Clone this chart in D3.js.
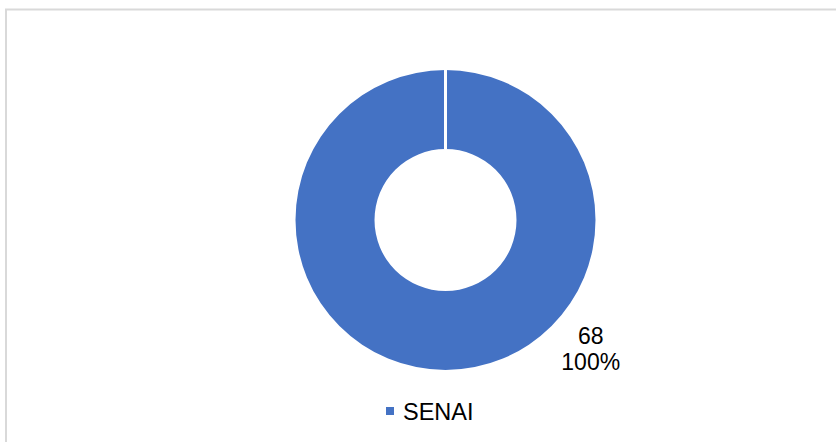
<!DOCTYPE html>
<html>
<head>
<meta charset="utf-8">
<script src="https://cdn.jsdelivr.net/npm/d3@7"></script>
<style>
  html, body { margin: 0; padding: 0; background: #fff; }
  #chart { width: 836px; height: 442px; }
  text { font-family: "Liberation Sans", Arial, sans-serif; }
</style>
</head>
<body>
<div id="chart"></div>
<script>
// donut: uma só categoria (100%)
const categories = ["SENAI"];
const values = [68];
const colors = ["#4472c4"];

const width = 836, height = 442;
const cx = 445.5, cy = 220;
const outerR = 150, innerR = 71;

const svg = d3.select("#chart").append("svg")
  .attr("width", width)
  .attr("height", height);

// moldura do gráfico
svg.append("rect")
  .attr("x", 6).attr("y", 9.5)
  .attr("width", width + 10).attr("height", height + 10)
  .attr("fill", "#fff")
  .attr("stroke", "#d9d9d9")
  .attr("stroke-width", 2);

const g = svg.append("g")
  .attr("transform", `translate(${cx},${cy})`);

const pie = d3.pie().sort(null).value(d => d);
const arcs = pie(values);
const total = d3.sum(values);

const arc = d3.arc().innerRadius(innerR).outerRadius(outerR);

g.selectAll("path.slice")
  .data(arcs)
  .join("path")
  .attr("class", "slice")
  .attr("d", arc)
  .attr("fill", (d, i) => colors[i]);

// separador branco no início de cada fatia
g.selectAll("line.sep")
  .data(arcs)
  .join("line")
  .attr("class", "sep")
  .attr("x1", d => innerR * Math.sin(d.startAngle))
  .attr("y1", d => -innerR * Math.cos(d.startAngle))
  .attr("x2", d => (outerR + 1) * Math.sin(d.startAngle))
  .attr("y2", d => -(outerR + 1) * Math.cos(d.startAngle))
  .attr("stroke", "#fff")
  .attr("stroke-width", 3);

// rótulos de dados (posição ajustada à mão, como no original)
const labelAngle = 130.5 * Math.PI / 180;
const labelR = 191;
const fmtPct = d3.format(".0%");
const lbl = g.selectAll("text.lbl")
  .data(arcs)
  .join("text")
  .attr("class", "lbl")
  .attr("text-anchor", "middle")
  .attr("font-size", 23)
  .attr("fill", "#000")
  .attr("transform", `translate(${labelR * Math.sin(labelAngle)},${-labelR * Math.cos(labelAngle)})`);
lbl.append("tspan").attr("x", 0).attr("y", 0).text(d => d.value);
lbl.append("tspan").attr("x", 0).attr("y", 26).text(d => fmtPct(d.value / total));

// legenda
const legend = svg.append("g")
  .attr("transform", "translate(386,0)");
const item = legend.selectAll("g")
  .data(categories)
  .join("g");
item.append("rect")
  .attr("x", 0).attr("y", 407)
  .attr("width", 8).attr("height", 8)
  .attr("fill", (d, i) => colors[i]);
item.append("text")
  .attr("x", 17).attr("y", 420)
  .attr("font-size", 23.5)
  .attr("fill", "#000")
  .text(d => d);
</script>
</body>
</html>
